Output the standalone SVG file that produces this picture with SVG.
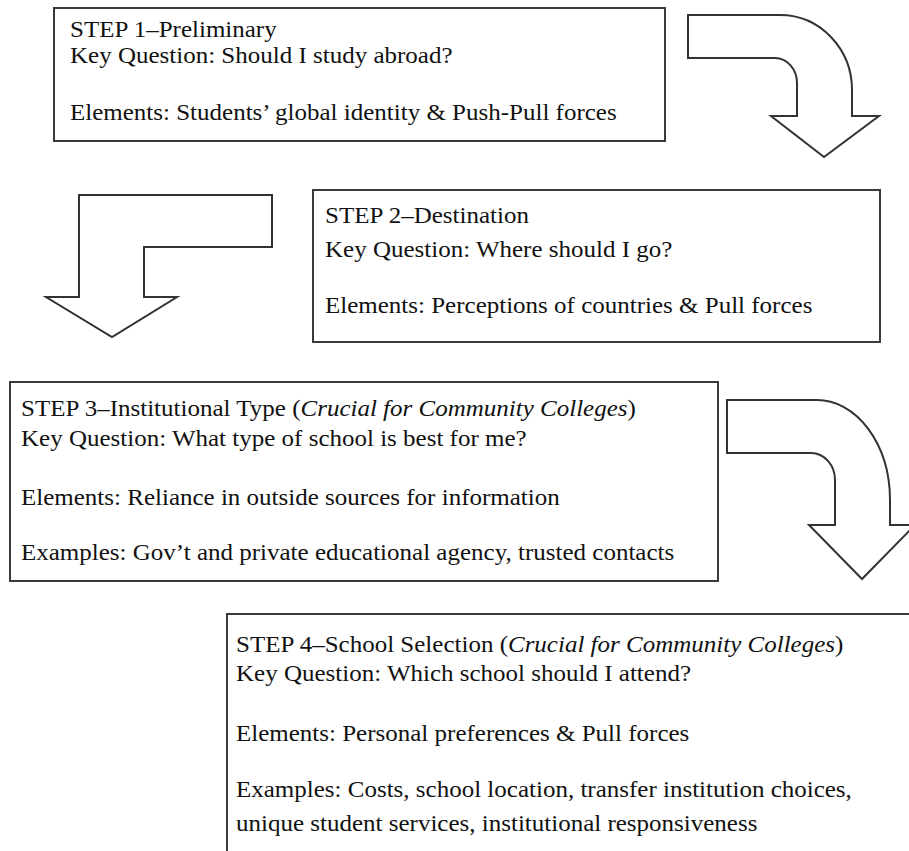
<svg xmlns="http://www.w3.org/2000/svg" width="909" height="851" viewBox="0 0 909 851">
<style>
.box{fill:#fff;stroke:#3a3a3a;stroke-width:2}
.arr{fill:#fff;stroke:#333;stroke-width:2;stroke-linejoin:miter}
.t{font-family:"Liberation Serif","Times New Roman",serif;font-size:24px;fill:#111}
.i{font-style:italic}
</style>
<rect width="909" height="851" fill="#fff"/>
<g id="connectors">
<path id="arrow1" class="arr" d="M688,15 H780 A72,75 0 0 1 852,90 V116 H879 L824,157 L771,116 H797 V83 A22,25 0 0 0 775,58 H688 Z"/>
<path id="arrow2" class="arr" d="M79,195 H272 V247 H144 V297 H177 L112,337 L46,297 H79 Z"/>
<path id="arrow3" class="arr" d="M727,400 H817 A73,100 0 0 1 890,500 V525 H915 L862,579 L809,525 H835 V480 A24,27 0 0 0 811,453 H727 Z"/>
</g>
<g id="step1">
<rect class="box" x="54" y="8" width="611" height="133"/>
<g transform="translate(70,0) scale(1.042,1)">
<text class="t"><tspan x="0" y="37">STEP 1–Preliminary</tspan><tspan x="0" y="63">Key Question: Should I study abroad?</tspan><tspan x="0" y="120">Elements: Students’ global identity &amp; Push-Pull forces</tspan></text>
</g>
</g>
<g id="step2">
<rect class="box" x="313" y="190" width="567" height="152"/>
<g transform="translate(325,0) scale(1.042,1)">
<text class="t"><tspan x="0" y="223">STEP 2–Destination</tspan><tspan x="0" y="257">Key Question: Where should I go?</tspan><tspan x="0" y="313">Elements: Perceptions of countries &amp; Pull forces</tspan></text>
</g>
</g>
<g id="step3">
<rect class="box" x="10" y="382" width="708" height="199"/>
<g transform="translate(21,0) scale(1.042,1)">
<text class="t"><tspan x="0" y="416">STEP 3–Institutional Type (<tspan class="i">Crucial for Community Colleges</tspan>)</tspan><tspan x="0" y="446">Key Question: What type of school is best for me?</tspan><tspan x="0" y="505">Elements: Reliance in outside sources for information</tspan><tspan x="0" y="560">Examples: Gov’t and private educational agency, trusted contacts</tspan></text>
</g>
</g>
<g id="step4">
<rect class="box" x="227" y="614" width="700" height="260"/>
<g transform="translate(236,0) scale(1.042,1)">
<text class="t"><tspan x="0" y="652">STEP 4–School Selection (<tspan class="i">Crucial for Community Colleges</tspan>)</tspan><tspan x="0" y="681">Key Question: Which school should I attend?</tspan><tspan x="0" y="741">Elements: Personal preferences &amp; Pull forces</tspan><tspan x="0" y="797">Examples: Costs, school location, transfer institution choices,</tspan><tspan x="0" y="831">unique student services, institutional responsiveness</tspan></text>
</g>
</g>
</svg>
